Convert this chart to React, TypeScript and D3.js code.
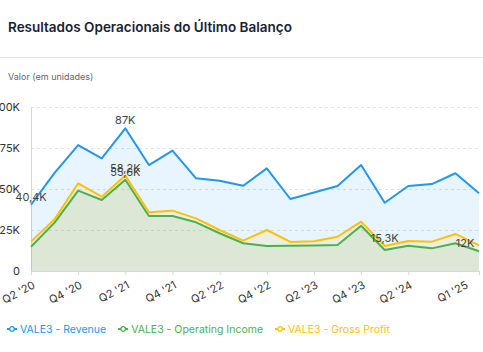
import React, { useRef, useEffect } from 'react';
import * as d3 from 'd3';

// quarterly values, in thousands
const quarters = [
  "Q2 '20", "Q3 '20", "Q4 '20", "Q1 '21", "Q2 '21", "Q3 '21", "Q4 '21", "Q1 '22", "Q2 '22", "Q3 '22",
  "Q4 '22", "Q1 '23", "Q2 '23", "Q3 '23", "Q4 '23", "Q1 '24", "Q2 '24", "Q3 '24", "Q4 '24", "Q1 '25",
];
const revenue = [40.4, 59.8, 76.8, 68.7, 87, 64.6, 73.4, 56.5, 55, 52, 62.6, 43.9, 47.9, 51.8, 64.6, 41.6, 51.8, 53, 59.6, 47.4];
const operatingIncome = [14.8, 29.5, 49, 43.3, 55.6, 33.5, 33.5, 29.7, 23, 16.9, 15.2, 15.4, 15.6, 15.8, 27.6, 12.8, 15.4, 13.8, 16.9, 12];
const grossProfit = [17.9, 31.5, 53.5, 45.3, 58.2, 35.8, 36.8, 32.1, 25, 18.5, 25, 17.7, 18.1, 20.9, 30.1, 15.3, 18.3, 17.9, 22.6, 15.6];
const tickLabels = ["Q2 '20", "Q4 '20", "Q2 '21", "Q4 '21", "Q2 '22", "Q4 '22", "Q2 '23", "Q4 '23", "Q2 '24", "Q1 '25"];
const yTicks = [0, 25, 50, 75, 100];
const seriesNames = ['VALE3 - Revenue', 'VALE3 - Operating Income', 'VALE3 - Gross Profit'];

const App = () => {
  const ref = useRef<HTMLDivElement>(null);

  useEffect(() => {
    const width = 483;
    const height = 352;
    const left = 31;
    const right = 479;
    const top = 107;
    const bottom = 271;
    const font = 'Inter, "Noto Sans", sans-serif';

    const series = [
      { name: seriesNames[0], values: revenue, color: '#2196f3' },
      { name: seriesNames[1], values: operatingIncome, color: '#4caf50' },
      { name: seriesNames[2], values: grossProfit, color: '#ffc107' },
    ];

    const x = d3.scalePoint<string>().domain(quarters).range([left, right]);
    const y = d3.scaleLinear().domain([0, 100]).range([bottom, top]);

    const root = d3.select(ref.current);
    root.selectAll('*').remove();
    const svg = root
      .append('svg')
      .attr('width', width)
      .attr('height', height)
      .style('position', 'absolute')
      .style('left', 0)
      .style('top', 0)
      .style('font-family', font);

    // header
    svg.append('text')
      .attr('x', 8).attr('y', 32)
      .attr('font-size', 13.5).attr('font-weight', 600)
      .attr('fill', '#1a2233')
      .text('Resultados Operacionais do Último Balanço');
    svg.append('line')
      .attr('x1', 0).attr('x2', width).attr('y1', 57.5).attr('y2', 57.5)
      .attr('stroke', '#e6e7ea');
    svg.append('text')
      .attr('x', 8).attr('y', 80)
      .attr('font-size', 9).attr('fill', '#666')
      .text('Valor (em unidades)');

    // grid + y axis
    const grid = svg.append('g');
    grid.selectAll('line.grid')
      .data(yTicks.filter(d => d > 0))
      .join('line')
      .attr('x1', left).attr('x2', right)
      .attr('y1', d => y(d) + 0.5).attr('y2', d => y(d) + 0.5)
      .attr('stroke', '#e3e3e3')
      .attr('stroke-dasharray', '3,3');
    grid.append('line')
      .attr('x1', left + 0.5).attr('x2', left + 0.5).attr('y1', top).attr('y2', bottom)
      .attr('stroke', '#d6d6d6');
    grid.selectAll('text')
      .data(yTicks)
      .join('text')
      .attr('x', 20).attr('y', d => y(d))
      .attr('dy', '0.35em')
      .attr('text-anchor', 'end')
      .attr('font-size', 11).attr('fill', '#333')
      .text(d => (d === 0 ? '0' : `${d}K`));

    // areas + lines
    const area = d3.area<number>()
      .x((d, i) => x(quarters[i]) as number)
      .y0(y(0))
      .y1(d => y(d));
    const line = d3.line<number>()
      .x((d, i) => x(quarters[i]) as number)
      .y(d => y(d));

    const plot = svg.append('g');
    series.forEach(s => {
      plot.append('path')
        .attr('d', area(s.values))
        .attr('fill', s.color)
        .attr('fill-opacity', 0.1);
    });
    series.forEach(s => {
      plot.append('path')
        .attr('d', line(s.values))
        .attr('fill', 'none')
        .attr('stroke', s.color)
        .attr('stroke-width', 2)
        .attr('stroke-linejoin', 'round');
    });

    // x axis
    const xAxis = svg.append('g');
    xAxis.append('line')
      .attr('x1', left).attr('x2', right).attr('y1', bottom + 0.5).attr('y2', bottom + 0.5)
      .attr('stroke', '#d6d6d6');
    const ticks = xAxis.selectAll('g.tick')
      .data(tickLabels)
      .join('g')
      .attr('transform', d => `translate(${x(d)},${bottom})`);
    ticks.append('line')
      .attr('x1', 0.5).attr('x2', 0.5).attr('y1', 0).attr('y2', 4)
      .attr('stroke', '#d6d6d6');
    ticks.append('text')
      .attr('transform', d => `translate(${Math.min(x(d) as number, right - 15) - (x(d) as number) + 3},13) rotate(-28)`)
      .attr('text-anchor', 'end')
      .attr('dy', '0.35em')
      .attr('font-size', 11).attr('fill', '#333')
      .text(d => d);

    // max / min labels
    const fmt = (v: number) => (Number.isInteger(v) ? `${v}` : v.toFixed(1).replace('.', ',')) + 'K';
    const labels = series.flatMap(s => {
      const iMax = d3.maxIndex(s.values);
      const iMin = d3.minIndex(s.values);
      return [iMax, iMin].map(i => ({ i, v: s.values[i] }));
    });
    svg.append('g')
      .selectAll('text')
      .data(labels)
      .join('text')
      .attr('x', d => Math.min(x(quarters[d.i]) as number, right - 14))
      .attr('y', d => y(d.v) - 4)
      .attr('text-anchor', 'middle')
      .attr('font-size', 11).attr('fill', '#444')
      .text(d => fmt(d.v));

    // legend
    const legend = svg.append('g').attr('transform', 'translate(7,329)');
    let lx = 0;
    series.forEach(s => {
      const item = legend.append('g').attr('transform', `translate(${lx},0)`);
      item.append('line')
        .attr('x1', 0).attr('x2', 10).attr('y1', 0).attr('y2', 0)
        .attr('stroke', s.color).attr('stroke-width', 2);
      item.append('circle')
        .attr('cx', 5).attr('cy', 0).attr('r', 2.3)
        .attr('fill', '#fff').attr('stroke', s.color).attr('stroke-width', 1.3);
      const t = item.append('text')
        .attr('x', 13).attr('dy', '0.35em')
        .attr('font-size', 10.5).attr('fill', s.color)
        .text(s.name);
      const w = (t.node() as SVGTextElement).getComputedTextLength();
      lx += 13 + w + 12;
    });
  }, []);

  return <div ref={ref} />;
};

export default App;
